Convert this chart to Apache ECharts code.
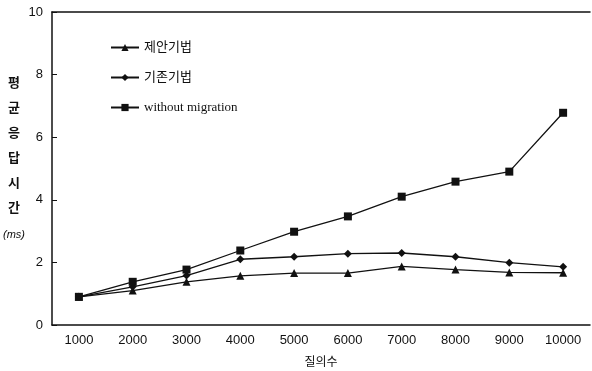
<!DOCTYPE html>
<html><head><meta charset="utf-8">
<script src="https://cdn.jsdelivr.net/npm/echarts@6/dist/echarts.min.js"></script>
<style>html,body{margin:0;padding:0;background:#fff}#c{width:592px;height:371px}</style>
</head><body><div id="c"></div>
<script>
var categories = ['1000','2000','3000','4000','5000','6000','7000','8000','9000','10000'];
var proposed = [0.9, 1.1, 1.38, 1.57, 1.66, 1.66, 1.87, 1.77, 1.68, 1.67];
var existing = [0.9, 1.22, 1.58, 2.1, 2.18, 2.28, 2.3, 2.18, 1.99, 1.86];
var withoutMigration = [0.9, 1.38, 1.77, 2.38, 2.98, 3.47, 4.1, 4.58, 4.9, 6.78];
var seriesNames = ['제안기법', '기존기법', 'without migration'];
var yTicks = {min: 0, max: 10, interval: 2};

var chart = echarts.init(document.getElementById('c'));
var ink = '#111';
function mk(name, data, sym, size) {
  return {name: name, type: 'line', data: data, symbol: sym, symbolSize: size,
    lineStyle: {color: ink, width: 1.3}, itemStyle: {color: ink}, showSymbol: true};
}
chart.setOption({
  animation: false,
  backgroundColor: '#fff',
  grid: {left: 52, right: 2, top: 12, bottom: 46, containLabel: false, outerBoundsMode: 'none'},
  legend: {
    orient: 'vertical', left: 105, top: 36, itemGap: 17, itemWidth: 28, itemHeight: 9,
    textStyle: {color: ink, fontSize: 13, fontFamily: '"Liberation Serif", "Noto Sans CJK KR", serif'},
    data: seriesNames
  },
  xAxis: [{
    type: 'category', data: categories, boundaryGap: true,
    axisLine: {lineStyle: {color: ink, width: 1.5}},
    axisTick: {inside: true, length: 4, lineStyle: {color: ink}},
    axisLabel: {color: ink, fontSize: 13, fontFamily: 'Liberation Sans, Arial, sans-serif', margin: 9},
    name: '질의수', nameLocation: 'middle', nameGap: 30,
    nameTextStyle: {color: ink, fontSize: 12, fontFamily: '"Noto Sans CJK KR", sans-serif'}
  }, {
    type: 'category', position: 'top', data: categories,
    axisLine: {show: true, lineStyle: {color: ink, width: 1.5}},
    axisTick: {show: false}, axisLabel: {show: false}
  }],
  yAxis: {
    type: 'value', min: yTicks.min, max: yTicks.max, interval: yTicks.interval,
    splitLine: {show: false},
    axisLine: {show: true, lineStyle: {color: ink, width: 1.5}},
    axisTick: {show: true, inside: true, length: 5, lineStyle: {color: ink}},
    axisLabel: {color: ink, fontSize: 13, fontFamily: 'Liberation Sans, Arial, sans-serif', margin: 9},
    name: '{k|평}\n{k|균}\n{k|응}\n{k|답}\n{k|시}\n{k|간}\n{m|(ms)}',
    nameLocation: 'middle', nameRotate: 0, nameGap: 26, nameMoveOverlap: false,
    nameTextStyle: {
      padding: [0, 0, 18, 0],
      rich: {
        k: {color: ink, fontSize: 13, lineHeight: 25, width: 24, align: 'center', fontWeight: 'bold', fontFamily: '"Noto Sans CJK KR", sans-serif'},
        m: {color: ink, fontSize: 11, lineHeight: 30, width: 24, align: 'center', fontStyle: 'italic', fontFamily: 'Liberation Sans, Arial, sans-serif'}
      }
    }
  },
  series: [
    mk(seriesNames[0], proposed, 'triangle', 8),
    mk(seriesNames[1], existing, 'diamond', 8),
    mk(seriesNames[2], withoutMigration, 'rect', 8)
  ]
});
</script></body></html>
